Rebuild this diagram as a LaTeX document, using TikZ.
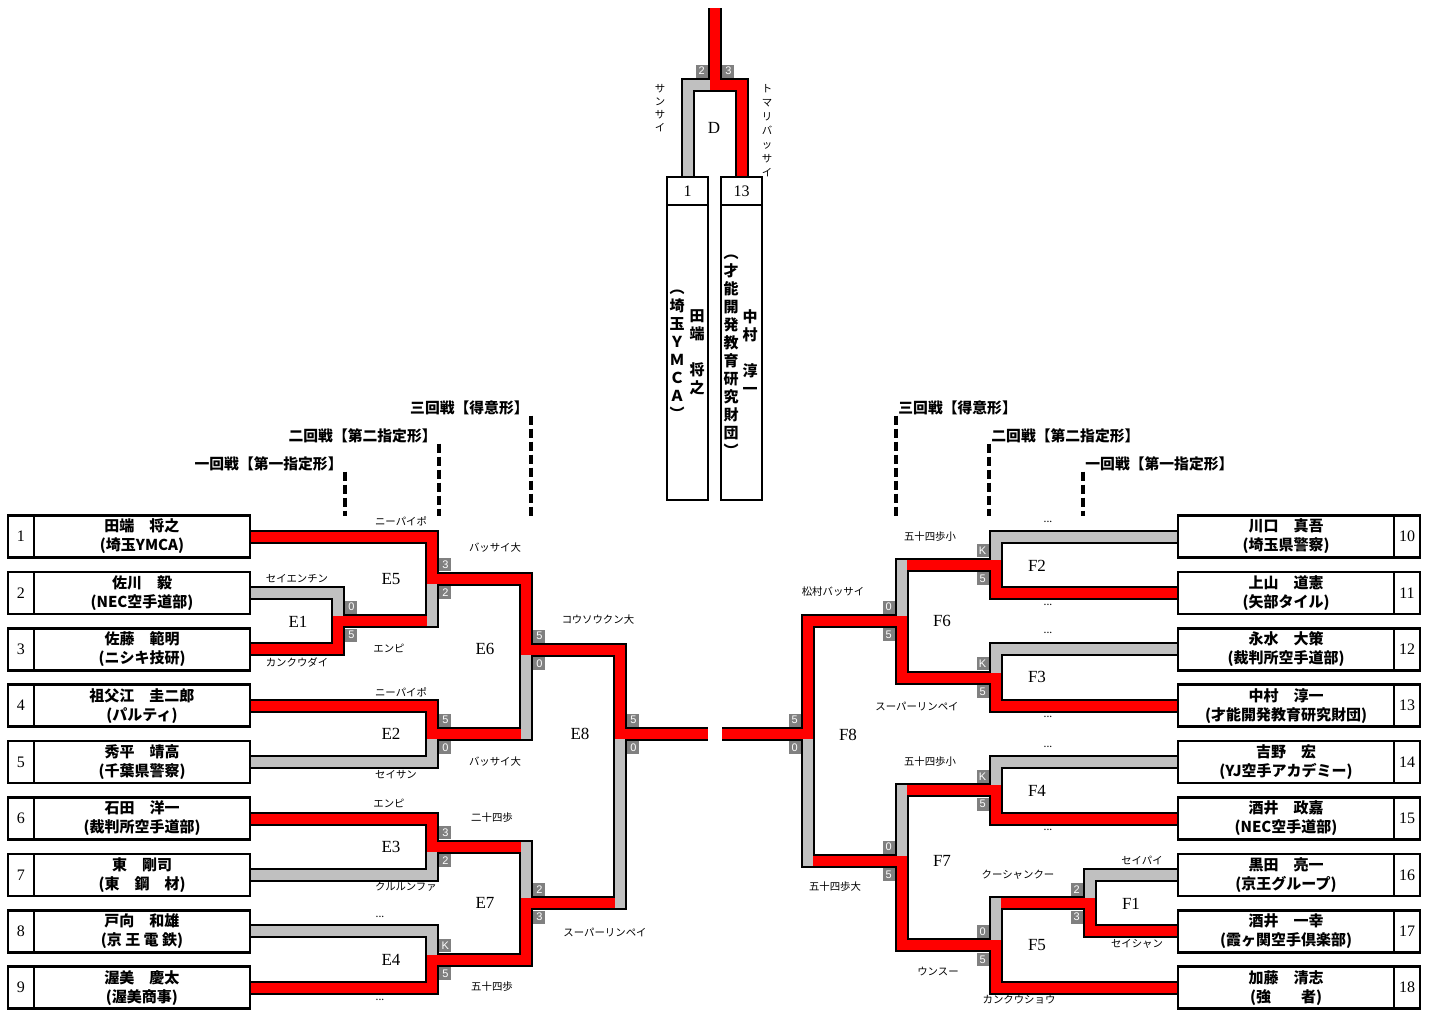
\documentclass[tikz,border=0pt]{standalone}
\usepackage{fontspec}
\setmainfont{Liberation Serif}
\setsansfont{Liberation Sans}
\newfontfamily\jp{Noto Sans CJK JP}
\usetikzlibrary{positioning,backgrounds}

\definecolor{winred}{RGB}{255,0,0}
\definecolor{lossgray}{RGB}{192,192,192}
\definecolor{scoregray}{RGB}{128,128,128}

\tikzset{
  cell/.style={draw, line width=1.25pt, fill=white, inner sep=0pt, outer sep=0pt},
  numcell/.style={cell, minimum width=13pt, minimum height=21pt,
    font=\fontsize{8}{9}\selectfont},
  namecell/.style={cell, minimum width=108pt, minimum height=21pt, align=center,
    font=\jp\bfseries\fontsize{7.5}{9.5}\selectfont},
  vtext/.style={inner sep=0pt, align=center, font=\jp\bfseries\fontsize{7.5}{9}\selectfont},
  pipeline/.style={line width=7pt, line join=miter},
  redline/.style={line width=5pt, line join=miter, draw=winred},
  grayline/.style={line width=5pt, line join=miter, draw=lossgray},
  score/.style={fill=scoregray, text=white, inner sep=0pt, minimum width=6pt,
    minimum height=6.5pt, font=\sffamily\fontsize{5.5}{6}\selectfont},
  tech/.style={inner sep=0pt, font=\jp\fontsize{5.2}{6.5}\selectfont},
  matchlbl/.style={inner sep=0pt, font=\fontsize{8.5}{9}\selectfont},
  header/.style={inner xsep=1pt, inner ysep=0pt,
    font=\jp\bfseries\fontsize{7.4}{8}\selectfont},
  roundline/.style={line width=1.6pt, dash pattern=on 4.5pt off 2pt},
}

\begin{document}
\begin{tikzpicture}[x=0.5pt, y=-0.5pt]
  \useasboundingbox (0,0) rectangle (1432,1012);

  % entrants, left block
  \foreach \n/\who/\club in {1/田端　将之/(埼玉YMCA), 2/佐川　毅/(NEC空手道部),
      3/佐藤　範明/(ニシキ技研), 4/祖父江　圭二郎/(パルティ), 5/秀平　靖高/(千葉県警察),
      6/石田　洋一/(裁判所空手道部), 7/東　剛司/(東　鋼　材), 8/戸向　和雄/(京 王 電 鉄),
      9/渥美　慶太/(渥美商事)} {
    \node[namecell] (L\n) at (142,{536.5+56.4*(\n-1)}) {\who\\\club};
    \node[numcell, left=0pt of L\n] (Ln\n) {\n};
  }

  % entrants, right block
  \foreach \n/\who/\club in {10/川口　真吾/(埼玉県警察), 11/上山　道憲/(矢部タイル),
      12/永水　大策/(裁判所空手道部), 13/中村　淳一/(才能開発教育研究財団),
      14/吉野　宏/(YJ空手アカデミー), 15/酒井　政嘉/(NEC空手道部),
      16/黒田　亮一/(京王グループ), 17/酒井　一幸/(霞ヶ関空手倶楽部),
      18/加藤　清志/(強　　者)} {
    \node[namecell] (R\n) at (1286,{536.5+56.4*(\n-10)}) {\who\\\club};
    \node[numcell, right=0pt of R\n] (Rn\n) {\n};
  }

  % final pair, written top to bottom
  \node[numcell, minimum width=20.5pt, minimum height=14pt] (D1) at (687.5,191) {1};
  \node[cell, minimum width=20.5pt, minimum height=147.5pt, below=0pt of D1] (D1box) {};
  \node[numcell, minimum width=20.5pt, minimum height=14pt] (D13) at (741.5,191) {13};
  \node[cell, minimum width=20.5pt, minimum height=147.5pt, below=0pt of D13] (D13box) {};
  \node[vtext] (D1who) at ([xshift=4.75pt]D1box.center) {田\\端\\　\\将\\之};
  \node[vtext] (D1club) at ([xshift=-5.25pt,yshift=-1.25pt]D1box.center)
    {︵\\埼\\玉\\Ｙ\\Ｍ\\Ｃ\\Ａ\\︶};
  \node[vtext] (D13who) at ([xshift=4.25pt]D13box.center) {中\\村\\　\\淳\\一};
  \node[vtext] (D13club) at ([xshift=-5.25pt,yshift=-1.75pt]D13box.center)
    {︵\\才\\能\\開\\発\\教\\育\\研\\究\\財\\団\\︶};

  % junctions
  \coordinate (jE1) at (338,621.1);
  \coordinate (jE5) at (432,578.8);
  \coordinate (jE2) at (432,733.9);
  \coordinate (jE6) at (526,650);
  \coordinate (jE3) at (432,846.7);
  \coordinate (jE4) at (432,959.5);
  \coordinate (jE7) at (526,903.1);
  \coordinate (jE8) at (620,734);
  \coordinate (jF2) at (996,564.7);
  \coordinate (jF3) at (996,677.5);
  \coordinate (jF6) at (902,621);
  \coordinate (jF4) at (996,790.3);
  \coordinate (jF1) at (1090,903.1);
  \coordinate (jF5) at (996,945.4);
  \coordinate (jF7) at (902,861);
  \coordinate (jF8) at (808,734);
  \coordinate (Lend) at (708,734);
  \coordinate (Rend) at (722,734);
  \coordinate (jD) at (715,85);
  \coordinate (Dtop) at (715,8);

  \begin{pgfonlayer}{background}
    % outline of every run
    \foreach \s/\j in {L1.east/jE5, L2.east/jE1, L3.east/jE1, L4.east/jE2, L5.east/jE2,
        L6.east/jE3, L7.east/jE3, L8.east/jE4, L9.east/jE4, jE1/jE5, jE2/jE6, jE5/jE6,
        jE3/jE7, jE4/jE7, jE6/jE8, jE7/jE8,
        R10.west/jF2, R11.west/jF2, R12.west/jF3, R13.west/jF3, R14.west/jF4,
        R15.west/jF4, R16.west/jF1, R17.west/jF1, R18.west/jF5, jF2/jF6, jF3/jF6,
        jF1/jF5, jF4/jF7, jF5/jF7, jF6/jF8, jF7/jF8}
      \draw[pipeline] (\s) -- (\s -| \j) -- (\j);
    \draw[pipeline] (jE8) -- (Lend) (jF8) -- (Rend);
    \draw[pipeline] (D1.north) -- (D1.north |- jD) -- (jD);
    \draw[pipeline] (D13.north) -- (D13.north |- jD) -- (jD) -- (Dtop);

    % lost in the first bout
    \foreach \s/\j in {L2.east/jE1, L5.east/jE2, L7.east/jE3, L8.east/jE4,
        R10.west/jF2, R12.west/jF3, R14.west/jF4, R16.west/jF1}
      \draw[grayline] (\s) -- (\s -| \j) -- (\j);
    \draw[grayline] (D1.north) -- (D1.north |- jD) -- (jD);

    % won before, lost here
    \foreach \s/\j in {jE1/jE5, jE2/jE6, jE3/jE7, jE7/jE8, jF2/jF6, jF1/jF5, jF4/jF7, jF7/jF8}
      \draw[grayline, line cap=rect] (\s -| \j) -- (\j);
    \foreach \s/\j in {jE1/jE5, jE2/jE6, jE3/jE7, jE7/jE8, jF2/jF6, jF1/jF5, jF4/jF7, jF7/jF8}
      \draw[redline, line cap=rect, shorten >=5pt] (\s) -- (\s -| \j);

    % winners
    \foreach \s/\j in {L1.east/jE5, L3.east/jE1, L4.east/jE2, L6.east/jE3, L9.east/jE4,
        R11.west/jF2, R13.west/jF3, R15.west/jF4, R17.west/jF1, R18.west/jF5}
      \draw[redline] (\s) -- (\s -| \j) -- (\j);
    \foreach \s/\j in {jE5/jE6, jE4/jE7, jE6/jE8, jF3/jF6, jF5/jF7, jF6/jF8}
      \draw[redline, line cap=rect] (\s) -- (\s -| \j) -- (\j);
    \draw[redline, line cap=rect, shorten >=2.5pt] (jE8) -- (Lend);
    \draw[redline, line cap=rect, shorten >=2.5pt] (jF8) -- (Rend);
    \draw[redline] (D13.north) -- (D13.north |- jD) -- (jD) -- (Dtop);
  \end{pgfonlayer}

  % scores
  \foreach \j/\a/\b in {jE1/0/5, jE5/3/2, jE2/5/0, jE6/5/0, jE3/3/2, jE4/K/5, jE7/2/3, jE8/5/0} {
    \node[score, above right=3.5pt and 3.5pt of \j] (\j-a) {\a};
    \node[score, below right=3.5pt and 3.5pt of \j] (\j-b) {\b};
  }
  \foreach \j/\a/\b in {jF2/K/5, jF3/K/5, jF6/0/5, jF4/K/5, jF1/2/3, jF5/0/5, jF7/0/5, jF8/5/0} {
    \node[score, above left=3.5pt and 3.5pt of \j] (\j-a) {\a};
    \node[score, below left=3.5pt and 3.5pt of \j] (\j-b) {\b};
  }
  \node[score, above left=3.5pt and 3.5pt of jD] (jD-a) {2};
  \node[score, above right=3.5pt and 3.5pt of jD] (jD-b) {3};

  % bout names
  \foreach \m/\x/\y in {E1/298/622, E5/391/579, E2/391/734, E6/485/649, E8/580/734,
      E3/391/847, E7/485/903, E4/391/960, F2/1037/566, F6/942/621, F3/1037/677,
      F8/848/735, F4/1037/791, F7/942/861, F1/1131/904, F5/1037/945, D/714/128}
    \node[matchlbl] (\m) at (\x,\y) {\m};

  % kata performed
  \foreach \t/\x/\y [count=\k] in {ニーパイポ/401/521, セイエンチン/297/579,
      カンクウダイ/297/662, エンピ/389/648, バッサイ大/495/548, コウソウクン大/598/620,
      ニーパイポ/401/692, セイサン/396/775, バッサイ大/495/762, エンピ/389/803,
      二十四歩/492/818, クルルンファ/406/887, スーパーリンペイ/605/932, 五十四歩/492/987,
      五十四歩小/930/537, 松村バッサイ/833/592, スーパーリンペイ/917/706,
      五十四歩小/930/762, セイパイ/1142/860, クーシャンクー/1018/875,
      五十四歩大/835/887, セイシャン/1137/944, ウンスー/938/972, カンクウショウ/1019/1000}
    \node[tech] (w\k) at (\x,\y) {\t};
  \foreach \x/\y [count=\k] in {380/917, 380/1000, 1048/522, 1048/605, 1048/633,
      1048/717, 1048/747, 1048/830}
    \node[tech] (etc\k) at (\x,\y) {...};
  \node[tech, align=center, font=\jp\fontsize{5.2}{6.6}\selectfont] (wSan) at (660,108)
    {サ\\ン\\サ\\イ};
  \node[tech, align=center, font=\jp\fontsize{5.2}{7}\selectfont] (wTom) at (767,131)
    {ト\\マ\\リ\\バ\\ッ\\サ\\イ};

  % round headings
  \node[header, anchor=east] (hL3) at (531,408) {三回戦【得意形】};
  \node[header, anchor=east] (hL2) at (439,436) {二回戦【第二指定形】};
  \node[header, anchor=east] (hL1) at (345,464) {一回戦【第一指定形】};
  \node[header, anchor=west] (hR3) at (896,408) {三回戦【得意形】};
  \node[header, anchor=west] (hR2) at (989,436) {二回戦【第二指定形】};
  \node[header, anchor=west] (hR1) at (1083,464) {一回戦【第一指定形】};
  \foreach \h in {hL1,hL2,hL3}
    \draw[roundline] (\h.south east) -- (\h.south east |- L1.north);
  \foreach \h in {hR1,hR2,hR3}
    \draw[roundline] (\h.south west) -- (\h.south west |- R10.north);
\end{tikzpicture}
\end{document}
